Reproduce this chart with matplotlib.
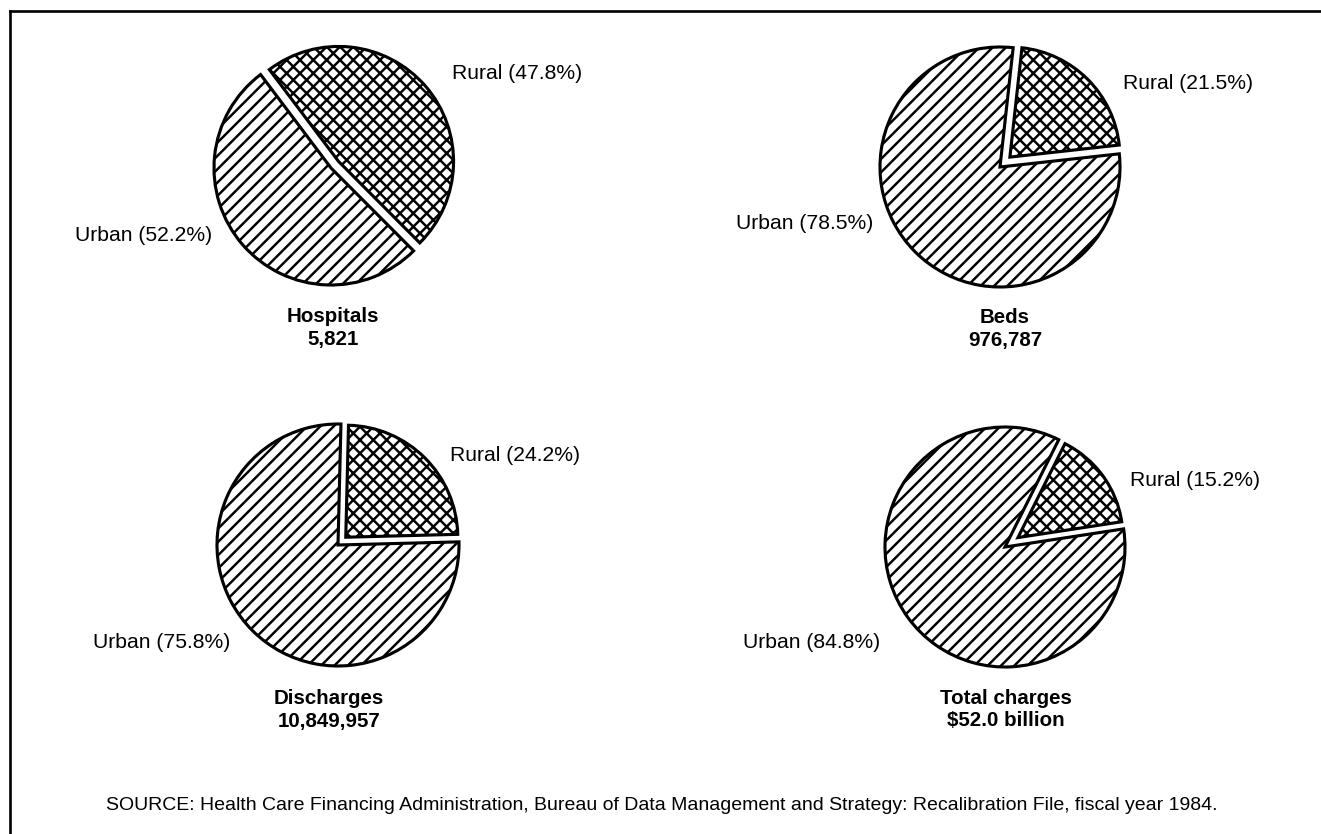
import matplotlib
matplotlib.use("Agg")
import matplotlib.pyplot as plt

# data
panels = ["Hospitals", "Beds", "Discharges", "Total charges"]
totals = ["5,821", "976,787", "10,849,957", "$52.0 billion"]
rural_pct = [47.8, 21.5, 24.2, 15.2]
urban_pct = [52.2, 78.5, 75.8, 84.8]
source = ("SOURCE: Health Care Financing Administration, Bureau of Data Management "
          "and Strategy: Recalibration File, fiscal year 1984.")

# layout in pixels, measured from the top-left of the picture
W, H = 1321, 834
centers = [(331, 168), (1000, 167), (338, 545), (1005, 547)]
radii = [117, 120, 121, 120]
rural_radii = [115, 110, 112, 105]   # the cut-out slice is drawn a bit smaller
starts = [127, 83.7, 88.6, 63.4]
explode_px = [10, 14, 11, 16]        # pie explode is in data units here (pixels)
rural_lab = [(452, 73), (1123, 83), (450, 455), (1130, 480)]
urban_lab = [(212, 235), (873, 223), (230, 643), (880, 642)]
title_pos = [(333, 316), (1005, 317), (329, 698), (1006, 698)]

plt.rcParams['font.family'] = ['Liberation Sans', 'DejaVu Sans']
plt.rcParams['hatch.linewidth'] = 2.2

fig = plt.figure(figsize=(W / 80, H / 80), dpi=80)
ax = fig.add_axes([0, 0, 1, 1])

style = dict(startangle=0, counterclock=False, colors=['white', 'white'],
             hatch=['xx', '//'],
             wedgeprops=dict(edgecolor='black', linewidth=2.8))

for i in range(4):
    cx, cy = centers[i]
    vals = [rural_pct[i], urban_pct[i]]
    style['startangle'] = starts[i]

    # urban slice
    w_u, _ = ax.pie(vals, center=(cx, H - cy), radius=radii[i], **style)
    w_u[0].set_visible(False)
    # rural slice, pulled out
    w_r, _ = ax.pie(vals, center=(cx, H - cy), radius=rural_radii[i],
                    explode=[explode_px[i], 0], **style)
    w_r[1].set_visible(False)

    x, y = rural_lab[i]
    ax.text(x, H - y, f"Rural ({rural_pct[i]:.1f}%)", ha='left', va='center',
            fontsize=19)
    x, y = urban_lab[i]
    ax.text(x, H - y, f"Urban ({urban_pct[i]:.1f}%)", ha='right', va='center',
            fontsize=19)
    x, y = title_pos[i]
    ax.text(x, H - y, panels[i], ha='center', va='center', fontsize=18.5,
            fontweight='bold')
    ax.text(x, H - y - 23, totals[i], ha='center', va='center', fontsize=18.5,
            fontweight='bold')

ax.text(662, H - 805, source, ha='center', va='center', fontsize=17.5)

# frame (right and bottom sides are cut off in the scan)
ax.plot([10, W], [H - 11, H - 11], color='black', lw=2.4)
ax.plot([10, 10], [H - 11, 0], color='black', lw=2.4)

ax.set_xlim(0, W)
ax.set_ylim(0, H)
ax.set_axis_off()

fig.savefig("out.png", dpi=80, facecolor='white')
